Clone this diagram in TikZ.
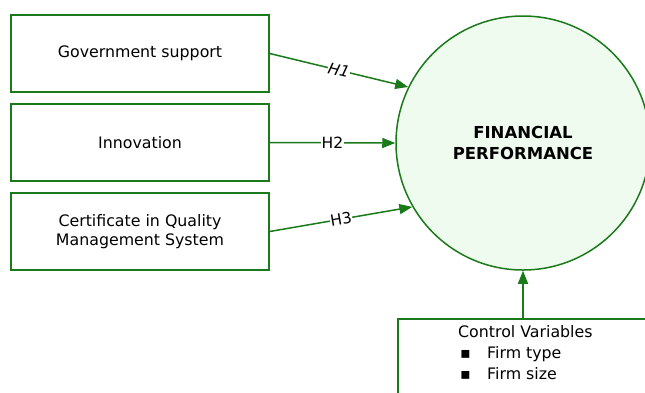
\documentclass[tikz,border=0pt]{standalone}
\usepackage{fontspec}
\setmainfont{DejaVu Sans}
\usetikzlibrary{arrows.meta}
\definecolor{edgegreen}{HTML}{1A7A1A}
\definecolor{fillgreen}{HTML}{EEFBEE}
\begin{document}
\begin{tikzpicture}[x=1pt,y=-1pt,
  varbox/.style={draw=edgegreen, line width=1.5pt, fill=white, minimum width=258pt,
    minimum height=77pt, align=center, inner sep=0pt, font=\fontsize{15.8}{19}\selectfont},
  link/.style={draw=edgegreen, line width=1.5pt, -{Triangle[length=13pt,width=10pt]}},
  hyp/.style={fill=white, inner sep=0.5pt, sloped, font=\fontsize{15.5}{17}\selectfont}]
  \clip (0,0) rectangle (645,392);
  % independent variables
  \node[varbox] (gov) at (140,53.5) {Government support};
  \node[varbox] (inn) at (140,142.5) {Innovation};
  \node[varbox] (cqm) at (140,231.5) {Certificate in Quality\\Management System};
  % dependent variable
  \node[circle, draw=edgegreen, line width=1.5pt, fill=fillgreen, minimum size=254pt,
    inner sep=0pt, align=center, font=\bfseries\fontsize{16.5}{21}\selectfont]
    (fp) at (523,143) {FINANCIAL\\PERFORMANCE};
  % control variables
  \node[draw=edgegreen, line width=1.5pt, fill=white, anchor=north west,
    minimum width=280pt, minimum height=100pt] (cv) at (397,318) {};
  \node[anchor=north west, align=left, inner sep=0pt,
    font=\fontsize{15.8}{21}\selectfont] (cvtext) at (458,325)
    {Control Variables\\\makebox[29pt][l]{\hspace{2pt}▪}Firm type\\\makebox[29pt][l]{\hspace{2pt}▪}Firm size};
  % hypotheses
  \draw[link] (gov.east) -- node[hyp, font=\itshape\fontsize{15.5}{17}\selectfont] {H1} (fp.154.8);
  \draw[link] (inn.east) -- node[hyp] {H2} (fp.west);
  \draw[link] (cqm.east) -- node[hyp] {H3} (fp.210.6);
  \draw[link] (fp.south |- cv.north) -- (fp.south);
\end{tikzpicture}
\end{document}
